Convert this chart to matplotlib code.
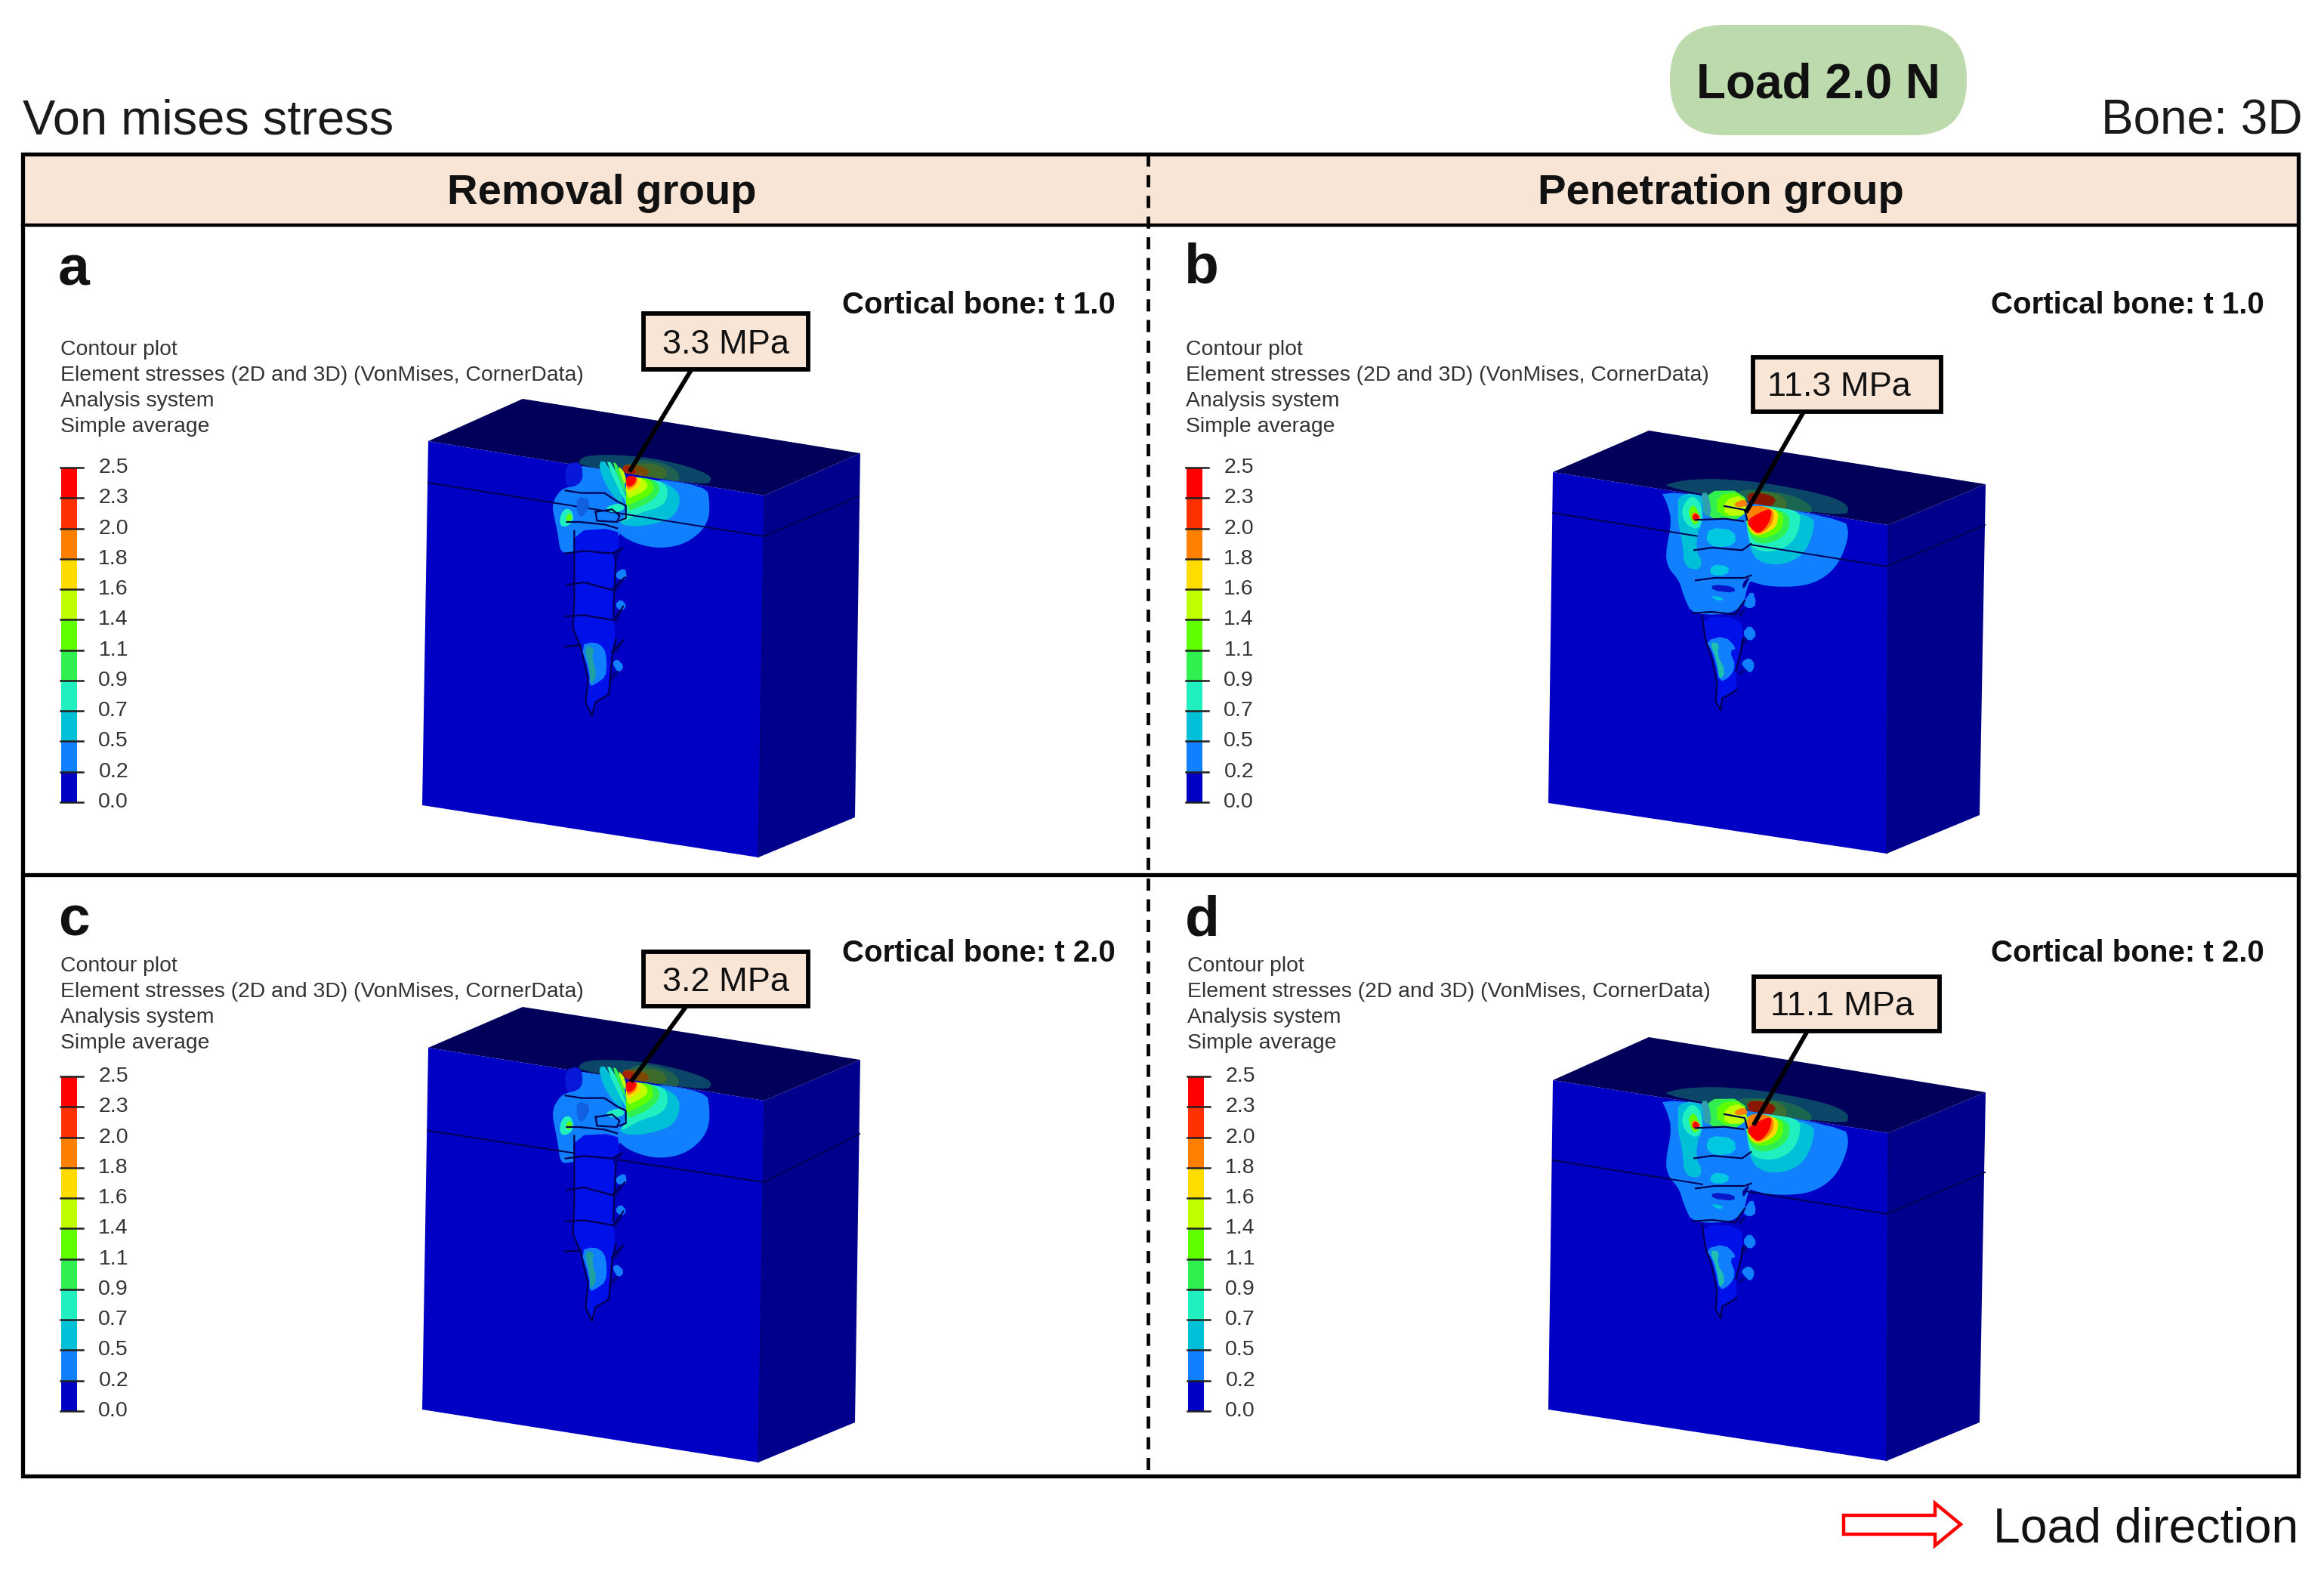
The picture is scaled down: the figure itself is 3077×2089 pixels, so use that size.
import matplotlib
matplotlib.use('Agg')
import matplotlib.pyplot as plt
from matplotlib.patches import Polygon, Rectangle, FancyBboxPatch

plt.rcParams['font.family'] = ['Liberation Sans', 'DejaVu Sans']

# ---- values
legend_values = ['2.5', '2.3', '2.0', '1.8', '1.6', '1.4', '1.1', '0.9', '0.7', '0.5', '0.2', '0.0']
legend_colors = ['#FF0000', '#FF3000', '#FF8000', '#FFDC00', '#C0FF00', '#60FF00',
                 '#30F050', '#20F0C0', '#00C0D8', '#1080FF', '#0000C4']
legend_lines = ['Contour plot', 'Element stresses (2D and 3D) (VonMises, CornerData)',
                'Analysis system', 'Simple average']
group_names = ['Removal group', 'Penetration group']
panel_names = ['a', 'b', 'c', 'd']
peak_labels = ['3.3 MPa', '11.3 MPa', '3.2 MPa', '11.1 MPa']
cortical_labels = ['Cortical bone: t 1.0', 'Cortical bone: t 1.0', 'Cortical bone: t 2.0', 'Cortical bone: t 2.0']

C = dict(r='#FF0000', rr='#FF3000', o='#FF8000', y='#FFDC00', yg='#C0FF00', l='#60FF00',
         g='#30F050', a='#20F0C0', c='#00C0D8', b='#1080FF', n='#0000C4', s='#0010E8')

FRONT = '#0000C4'
TOP = '#00005A'
SIDE = '#00008C'
BAND = '#F9E5D6'
LINE = '#000050'
WING = '#000090'

# screw and contour outlines, traced in zoom pixels (3x) around the block front corner
rem_corner = (935, 470)
rem_top = [
    ('#0B4568', [(200, 354), (200, 325), (240, 310), (340, 308), (470, 318), (600, 345), (690, 375), (730, 400), (705, 433)]),
    ('#1F6050', [(380, 385), (400, 335), (470, 325), (560, 350), (600, 385), (590, 425)]),
    ('#3D6B2C', [(390, 385), (410, 345), (470, 340), (530, 355), (552, 380), (530, 410)]),
    ('#7A4A00', [(365, 350), (410, 345), (470, 360), (480, 385), (450, 400), (400, 395)]),
    ('#A82000', [(365, 358), (400, 350), (430, 375), (410, 392), (385, 385)]),
]
rem_front = [
    (C['b'], [(205, 335), (215, 395), (200, 425), (165, 435), (125, 450), (90, 510), (105, 590), (115, 640), (125, 720), (170, 715), (345, 690), (385, 560), (385, 380), (345, 345)]),
    (C['b'], [(430, 395), (705, 433), (718, 500), (715, 575), (680, 635), (610, 685), (520, 700), (440, 685), (370, 650), (345, 610), (385, 560)]),
    (C['c'], [(385, 390), (520, 410), (595, 455), (600, 510), (575, 565), (520, 590), (450, 605), (390, 605), (355, 590), (385, 560)]),
    (C['a'], [(385, 400), (500, 405), (550, 430), (550, 490), (520, 525), (450, 545), (395, 575), (360, 590), (385, 560)]),
    (C['g'], [(385, 400), (480, 400), (520, 430), (515, 470), (470, 510), (420, 530), (390, 545)]),
    (C['l'], [(385, 400), (470, 400), (495, 430), (490, 465), (440, 495), (395, 515), (385, 520)]),
    (C['yg'], [(385, 395), (450, 398), (475, 430), (460, 455), (420, 475), (388, 490)]),
    (C['y'], [(385, 395), (440, 398), (445, 430), (420, 450), (388, 465)]),
    (C['o'], [(385, 392), (430, 395), (430, 425), (405, 445), (388, 450)]),
    (C['r'], [(388, 390), (430, 395), (420, 425), (395, 440), (385, 425)]),
    (C['a'], [(120, 580), (135, 535), (165, 530), (180, 570), (165, 600), (130, 610)]),
    (C['l'], [(145, 570), (160, 545), (175, 570), (155, 590)]),
]
rem_screw = [
    ('#0818D8', [(145, 345), (205, 335), (215, 395), (195, 430), (145, 440)]),
    (C['c'], [(275, 335), (310, 335), (385, 510), (340, 480), (295, 410)]),
    (C['a'], [(305, 335), (330, 338), (385, 470), (385, 505)]),
    (C['g'], [(330, 338), (350, 342), (385, 440), (385, 470)]),
    (C['yg'], [(350, 345), (385, 385), (385, 440)]),
    ('#1060E0', [(190, 470), (250, 490), (215, 560), (190, 540)]),
    (C['a'], [(300, 520), (350, 500), (380, 510), (375, 530), (330, 540)]),
    (C['s'], [(175, 610), (350, 600), (360, 660), (345, 720), (345, 770), (340, 830), (335, 950), (345, 1040), (330, 1110), (318, 1260), (265, 1290), (250, 1345), (225, 1290), (235, 1200), (205, 1070), (175, 1000), (180, 880), (180, 740)]),
    (C['b'], [(205, 1065), (260, 1050), (300, 1075), (310, 1130), (305, 1190), (270, 1215), (240, 1230), (240, 1170)]),
    ('#20A0A0', [(220, 1065), (260, 1075), (250, 1110), (270, 1180), (245, 1225), (240, 1160)]),
    (WING, [(330, 700), (372, 678), (345, 735)]),
    (WING, [(330, 845), (385, 795), (342, 860)]),
    (WING, [(335, 965), (380, 910), (345, 985)]),
    (WING, [(330, 1090), (378, 1045), (345, 1105)]),
    (WING, [(318, 1185), (375, 1150), (318, 1225)]),
    (C['b'], [(340, 780), (382, 755), (390, 800), (355, 805)]),
    (C['b'], [(340, 905), (365, 880), (390, 910), (365, 930)]),
    (C['b'], [(330, 1135), (350, 1118), (380, 1150), (355, 1175)]),
]
rem_threads = [
    [(145, 450), (210, 460), (300, 460), (345, 490), (385, 510), (385, 560), (360, 570)],
    [(265, 535), (330, 525), (360, 550), (350, 575), (270, 570), (265, 535)],
    [(150, 575), (200, 575), (300, 585), (350, 600)],
    [(145, 700), (220, 690), (330, 700), (370, 680)],
    [(150, 825), (220, 815), (330, 845), (380, 795)],
    [(145, 950), (220, 945), (335, 965), (375, 910)],
    [(140, 1070), (205, 1065)],
    [(330, 1090), (375, 1045)],
    [(180, 610), (180, 880), (175, 1000), (205, 1070), (235, 1200), (225, 1290), (250, 1345), (265, 1290), (318, 1260), (330, 1110), (345, 1040)],
    [(345, 720), (340, 830), (335, 950)],
]

pen_corner = (965, 420)
pen_top = [
    ('#0B4568', [(40, 271), (110, 245), (240, 235), (400, 245), (560, 270), (720, 305), (800, 345), (775, 393)]),
    ('#1A6650', [(350, 325), (350, 275), (530, 290), (610, 320), (650, 350), (640, 380)]),
    ('#3C7030', [(390, 330), (390, 285), (500, 290), (550, 320), (540, 375)]),
    ('#8A1800', [(385, 290), (470, 295), (510, 320), (480, 350), (440, 370), (400, 345)]),
]
pen_front = [
    (C['b'], [(40, 272), (75, 340), (90, 410), (65, 530), (75, 590), (120, 640), (140, 710), (175, 780), (370, 770), (395, 640), (420, 650), (480, 665), (600, 665), (680, 640), (740, 590), (775, 525), (795, 450), (775, 393)]),
    (C['c'], [(115, 300), (215, 290), (210, 400), (195, 500), (215, 600), (140, 590), (135, 500), (115, 410), (115, 360)]),
    (C['c'], [(385, 340), (655, 380), (655, 440), (630, 510), (590, 555), (520, 580), (440, 570), (400, 520), (385, 400)]),
    (C['a'], [(385, 340), (600, 355), (600, 430), (570, 490), (510, 525), (440, 525), (400, 500), (385, 400)]),
    (C['g'], [(385, 340), (555, 365), (560, 430), (530, 470), (470, 495), (420, 490), (390, 440)]),
    (C['l'], [(385, 340), (530, 360), (535, 420), (510, 455), (450, 475), (405, 460), (385, 410)]),
    (C['y'], [(385, 340), (515, 355), (510, 420), (480, 445), (430, 465), (395, 440)]),
    (C['o'], [(385, 340), (495, 350), (495, 410), (460, 445), (430, 460), (395, 425)]),
    (C['r'], [(430, 375), (490, 350), (480, 410), (440, 455), (410, 440), (385, 405)]),
    (C['a'], [(135, 340), (170, 300), (205, 330), (215, 400), (190, 440), (150, 420), (130, 380)]),
    (C['l'], [(155, 360), (180, 335), (205, 390), (185, 425), (165, 400)]),
    (C['o'], [(165, 385), (180, 365), (210, 390), (185, 410)]),
    (C['r'], [(170, 390), (185, 370), (205, 395), (180, 405)]),
]
pen_screw = [
    (C['g'], [(220, 285), (380, 283), (390, 400), (215, 395)]),
    (C['l'], [(270, 300), (375, 290), (395, 385), (270, 385)]),
    (C['yg'], [(300, 320), (375, 300), (395, 380), (300, 385)]),
    (C['o'], [(335, 335), (380, 315), (395, 345), (350, 350)]),
    ('#30A0B0', [(205, 295), (235, 290), (250, 380), (220, 385), (215, 340)]),
    (C['b'], [(200, 410), (375, 410), (405, 500), (380, 540), (385, 620), (370, 650), (340, 770), (180, 770), (215, 640), (215, 570), (185, 520)]),
    ('#00C8E0', [(240, 430), (340, 440), (345, 500), (260, 510), (225, 480)]),
    ('#00C8E0', [(250, 575), (320, 585), (310, 620), (240, 620)]),
    ('#0818C8', [(250, 655), (340, 665), (340, 690), (250, 680)]),
    ('#00C8E0', [(240, 700), (300, 710), (280, 725)]),
    (C['s'], [(210, 780), (365, 790), (375, 870), (365, 920), (345, 1000), (350, 1075), (290, 1110), (285, 1155), (265, 1120), (270, 1050), (250, 950), (225, 880)]),
    (C['b'], [(225, 880), (300, 860), (350, 910), (320, 920), (345, 980), (320, 1025), (280, 1045), (265, 970), (250, 920)]),
    ('#20C0B0', [(240, 885), (280, 890), (270, 935), (305, 1000), (280, 1040), (270, 960)]),
    (WING, [(370, 650), (405, 620), (375, 680)]),
    (WING, [(345, 770), (390, 745), (365, 790)]),
    (WING, [(365, 870), (400, 870), (365, 915)]),
    (WING, [(350, 1000), (395, 990), (360, 1020)]),
    (C['b'], [(370, 735), (410, 675), (428, 735), (400, 755)]),
    (C['b'], [(370, 850), (400, 815), (430, 855), (400, 885)]),
    (C['b'], [(365, 965), (400, 945), (422, 975), (405, 1010), (380, 990)]),
]
pen_threads = [
    [(185, 400), (300, 395), (375, 405)],
    [(180, 520), (250, 510), (370, 520), (405, 495)],
    [(185, 640), (260, 630), (380, 630), (405, 620)],
    [(175, 770), (250, 765), (340, 775), (380, 720)],
    [(300, 345), (380, 360), (390, 400)],
    [(210, 780), (225, 880), (250, 950), (270, 1050), (265, 1120), (285, 1155), (290, 1110), (350, 1075)],
    [(375, 870), (365, 920), (345, 1000)],
]

# block corners of each panel, figure pixels
blocks = [
    dict(tb=(692, 528), lt=(567, 584), rb=(1139, 600), ft=(1012, 656), lb=(559, 1066), fb=(1004, 1135), br=(1132, 1082),
         cort=[(567, 639), (1011, 710), (1137, 657)], anchor=(1012, 656), stretch=0.93),
    dict(tb=(2183, 570), lt=(2056, 625), rb=(2629, 641), ft=(2500, 695), lb=(2050, 1063), fb=(2498, 1130), br=(2621, 1079),
         cort=[(2056, 679), (2498, 750), (2628, 695)], anchor=(2505, 695), stretch=1.0),
    dict(tb=(692, 1333), lt=(567, 1387), rb=(1139, 1403), ft=(1012, 1457), lb=(559, 1866), fb=(1004, 1936), br=(1132, 1883),
         cort=[(567, 1497), (1012, 1565), (1138, 1501)], anchor=(1012, 1457), stretch=1.0),
    dict(tb=(2183, 1373), lt=(2056, 1430), rb=(2629, 1446), ft=(2500, 1500), lb=(2050, 1866), fb=(2498, 1934), br=(2621, 1883),
         cort=[(2056, 1536), (2498, 1607), (2628, 1552)], anchor=(2505, 1500), stretch=1.0),
]
boxes = [(852, 415, 1070, 489), (2321, 473, 2570, 545), (852, 1260, 1070, 1332), (2322, 1293, 2568, 1365)]
leaders = [((915, 490), (835, 622)), ((2387, 547), (2313, 676)), ((908, 1333), (837, 1430)), ((2393, 1365), (2323, 1487))]
peak_xy = [(961, 456), (2435, 513), (961, 1301), (2439, 1333)]
legend_x = [80, 1570, 80, 1572]
legend_top = [619, 619, 1425, 1425]
text_top = [463, 463, 1279, 1279]
letter_xy = [(98, 358), (1590, 355), (98, 1219), (1592, 1219)]
cort_xy = [(1477, 404), (2998, 404), (1477, 1262), (2998, 1262)]


def chaikin(pts, n=2):
    for _ in range(n):
        out = []
        for i in range(len(pts)):
            x0, y0 = pts[i]
            x1, y1 = pts[(i + 1) % len(pts)]
            out.append((0.75 * x0 + 0.25 * x1, 0.75 * y0 + 0.25 * y1))
            out.append((0.25 * x0 + 0.75 * x1, 0.25 * y0 + 0.75 * y1))
        pts = out
    return pts


def place(pts, corner, ft, stretch=1.0):
    res = []
    for zx, zy in pts:
        dy = (zy - corner[1]) / 3
        if dy > -19:
            dy = -19 + (dy + 19) * stretch
        res.append(((zx - corner[0]) / 3 + ft[0], dy + ft[1]))
    return res


def draw_block(ax, b, corner, top, front, screw, threads):
    top_face = Polygon([b['lt'], b['tb'], b['rb'], b['ft']], fc=TOP, ec='none', zorder=2)
    front_face = Polygon([b['lt'], b['ft'], b['fb'], b['lb']], fc=FRONT, ec='none', zorder=2)
    side_face = Polygon([b['ft'], b['rb'], b['br'], b['fb']], fc=SIDE, ec='none', zorder=2)
    for p in (top_face, front_face, side_face):
        ax.add_patch(p)
    for col, pts in top:
        p = Polygon(chaikin(place(pts, corner, b['anchor'])), fc=col, ec='none', zorder=3)
        ax.add_patch(p)
        p.set_clip_path(top_face)
    for col, pts in front:
        p = Polygon(chaikin(place(pts, corner, b['anchor'], b['stretch'])), fc=col, ec='none', zorder=3)
        ax.add_patch(p)
        p.set_clip_path(front_face)
    for col, pts in screw:
        ax.add_patch(Polygon(chaikin(place(pts, corner, b['anchor']), 1), fc=col, ec='none', zorder=4))
    for pts in threads:
        xy = place(pts, corner, b['anchor'])
        ax.plot([q[0] for q in xy], [q[1] for q in xy], color=LINE, lw=1.6, zorder=5, solid_joinstyle='round')
    cx = [q[0] for q in b['cort']]
    cy = [q[1] for q in b['cort']]
    ax.plot(cx, cy, color=LINE, lw=1.4, zorder=3.5)
    ax.plot([b['ft'][0], b['fb'][0]], [b['ft'][1], b['fb'][1]], color='#000070', lw=0.8, zorder=3)


def draw_legend(ax, x, y0):
    step = 443 / (len(legend_values) - 1)
    for i, col in enumerate(legend_colors):
        ax.add_patch(Rectangle((x + 1, y0 + i * step), 21, step, fc=col, ec='none', zorder=2))
    for i, val in enumerate(legend_values):
        yy = y0 + i * step
        ax.plot([x, x + 30], [yy, yy], color='#202020', lw=1.8, zorder=3)
        ax.text(x + 90, yy, val, ha='right', va='center', fontsize=20.5, color='#333333')


fig = plt.figure(figsize=(30.77, 20.89), dpi=100)
ax = fig.add_axes([0, 0, 1, 1])
ax.set_xlim(0, 3077)
ax.set_ylim(2089, 0)
ax.axis('off')

# top titles
ax.text(30, 160, 'Von mises stress', fontsize=46.8, va='center', color='#1a1a1a')
ax.text(3049, 160, 'Bone: 3D', fontsize=46, va='center', ha='right', color='#1a1a1a')
ax.add_patch(FancyBboxPatch((2211, 33), 393, 146, boxstyle='round,pad=0,rounding_size=72', fc='#BCDAAB', ec='none'))
ax.text(2407, 113, 'Load 2.0 N', fontsize=46, fontweight='bold', ha='center', va='center', color='#111111')

# frame
ax.add_patch(Rectangle((30, 204), 3013, 94, fc=BAND, ec='none', zorder=1))
ax.text(797, 256, group_names[0], fontsize=40.5, fontweight='bold', ha='center', va='center', color='#111111')
ax.text(2278, 256, group_names[1], fontsize=40.5, fontweight='bold', ha='center', va='center', color='#111111')
ax.add_patch(Rectangle((30, 204), 3013, 1750, fc='none', ec='black', lw=3.8, zorder=7))
ax.plot([30, 3043], [298, 298], color='black', lw=3.2, zorder=7)
ax.plot([30, 3043], [1158, 1158], color='black', lw=3.8, zorder=7)
ax.plot([1520, 1520], [204, 1954], color='black', lw=3.4, dashes=(3.4, 2.4), zorder=7)

for i in range(4):
    if i % 2 == 0:
        draw_block(ax, blocks[i], rem_corner, rem_top, rem_front, rem_screw, rem_threads)
    else:
        draw_block(ax, blocks[i], pen_corner, pen_top, pen_front, pen_screw, pen_threads)
    draw_legend(ax, legend_x[i], legend_top[i])
    for k, line in enumerate(legend_lines):
        ax.text(legend_x[i], text_top[i] + k * 34, line, fontsize=20.4, va='center', color='#333333')
    ax.text(letter_xy[i][0], letter_xy[i][1], panel_names[i], fontsize=54, fontweight='bold', ha='center', va='center', color='#111111')
    ax.text(cort_xy[i][0], cort_xy[i][1], cortical_labels[i], fontsize=29, fontweight='bold', ha='right', va='center', color='#111111')
    x0, y0, x1, y1 = boxes[i]
    (lx0, ly0), (lx1, ly1) = leaders[i]
    ax.plot([lx0, lx1], [ly0, ly1], color='black', lw=4.2, zorder=8)
    ax.add_patch(Rectangle((x0, y0), x1 - x0, y1 - y0, fc=BAND, ec='black', lw=4.2, zorder=9))
    ax.text(peak_xy[i][0], peak_xy[i][1], peak_labels[i], fontsize=32.5, ha='center', va='center', color='#111111', zorder=10)

# load arrow
ax.add_patch(Polygon([(2441, 2006), (2562, 2006), (2562, 1990), (2596, 2018), (2562, 2046), (2562, 2031), (2441, 2031)],
                     fc='white', ec='#FF0000', lw=3.2, joinstyle='miter'))
ax.text(3043, 2024, 'Load direction', fontsize=46.3, ha='right', va='center', color='#111111')

fig.savefig('out.png', dpi=100, facecolor='white')
